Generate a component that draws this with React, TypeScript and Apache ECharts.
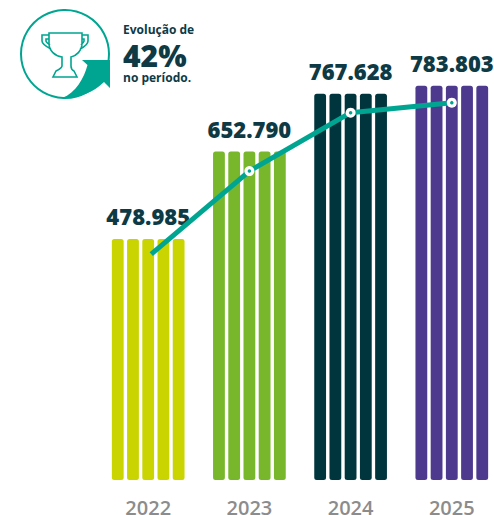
import React, { useEffect, useRef } from "react";
import * as echarts from "echarts";

const categories = ["2022", "2023", "2024", "2025"];
const totals = [478985, 652790, 767628, 783803];
const barColors = ["#C9D400", "#78B72B", "#00353E", "#4D3A8F"];
const stripes = [0, 1, 2, 3, 4];
const trendLine = [[0.03, 449000], [1, 614000], [2, 730000], [3, 750000]];
const trendMarkers = trendLine.slice(1);
const calloutLines = ["Evolução de", "42%", "no período."];

const FONT = "'Open Sans', 'Noto Sans', sans-serif";
const DARK = "#0E3A45";
const TEAL = "#00A591";

const fmt = (v: number) => String(v).replace(/\B(?=(\d{3})+$)/g, ".");

echarts.graphic.registerShape(
  "arrowSwoosh",
  echarts.graphic.extendPath(
    "M62 98 C76 93 84 78 87.5 65 L82 60 L110 60 L110 88 L104 82 C94 92 80 98 62 98 Z",
    {}
  )
);
echarts.graphic.registerShape(
  "trophy",
  echarts.graphic.extendPath(
    "M49 33 H82 V43 C82 51 76 56 71 57 V66 C71 68 72 70 74 71 L77 77 H53 L56 71 C58 70 62 68 62 66 V57 C55 56 49 51 49 43 Z M49 35 H42 V41 C42 44 47 47 51 49 M82 35 H88 V41 C88 44 84 47 80 49 M49 39 H46 V41 C46 42 47 43 50 45 M82 39 H84 V41 C84 42 83 43 81 45",
    {}
  )
);

export default function App() {
  const ref = useRef<HTMLDivElement>(null);
  useEffect(() => {
    const chart = echarts.init(ref.current!, undefined, { renderer: "svg" });
    chart.setOption({
      animation: false,
      backgroundColor: "#ffffff",
      grid: { left: 97.6, width: 404.8, top: 0, height: 480, containLabel: false, outerBoundsMode: "none" },
      xAxis: [
        {
          type: "category",
          data: categories,
          axisLine: { show: false },
          axisTick: { show: false },
          axisLabel: { color: "#8C8C8C", fontFamily: FONT, fontSize: 20, fontWeight: 600, margin: 16, lineHeight: 22 },
        },
        { type: "value", min: -0.5, max: 3.5, show: false },
      ],
      yAxis: { type: "value", min: 0, max: 954000, show: false },
      series: [
        ...stripes.map((s) => ({
          type: "bar",
          xAxisIndex: 0,
          barWidth: 11.8,
          barGap: "29%",
          data: totals.map((v, i) => ({ value: v, itemStyle: { color: barColors[i] } })),
          itemStyle: { borderRadius: 2.5 },
          label:
            s === 2
              ? {
                  show: true,
                  position: "top",
                  distance: 12,
                  color: DARK,
                  fontFamily: FONT,
                  fontSize: 22,
                  fontWeight: 800,
                  formatter: (p: any) => fmt(p.value),
                }
              : { show: false },
          silent: true,
        })),
        {
          type: "line",
          xAxisIndex: 1,
          data: trendLine,
          symbol: "none",
          lineStyle: { color: TEAL, width: 5 },
          z: 5,
        },
        {
          type: "scatter",
          xAxisIndex: 1,
          data: trendMarkers,
          symbol: "circle",
          symbolSize: 10,
          itemStyle: { color: "#ffffff", opacity: 1 },
          z: 6,
        },
        {
          type: "scatter",
          xAxisIndex: 1,
          data: trendMarkers,
          symbol: "circle",
          symbolSize: 3.5,
          itemStyle: { color: TEAL, opacity: 1 },
          z: 7,
        },
      ],
      graphic: [
        { type: "circle", shape: { cx: 65, cy: 54, r: 44 }, style: { fill: "none", stroke: TEAL, lineWidth: 2 } },
        { type: "arrowSwoosh", style: { fill: TEAL } },
        { type: "trophy", style: { fill: "none", stroke: TEAL, lineWidth: 1.6 } },
        { type: "text", x: 123, y: 29, style: { text: calloutLines[0], fill: DARK, font: `700 12px ${FONT}`, textVerticalAlign: "middle" } },
        { type: "text", x: 123, y: 55, style: { text: calloutLines[1], fill: DARK, font: `800 30px ${FONT}`, textVerticalAlign: "middle", lineHeight: 24 } },
        { type: "text", x: 123, y: 77, style: { text: calloutLines[2], fill: DARK, font: `700 12px ${FONT}`, textVerticalAlign: "middle" } },
      ],
    });
    return () => chart.dispose();
  }, []);
  return <div ref={ref} style={{ position: "fixed", left: 0, top: 0, width: 494, height: 515 }} />;
}
